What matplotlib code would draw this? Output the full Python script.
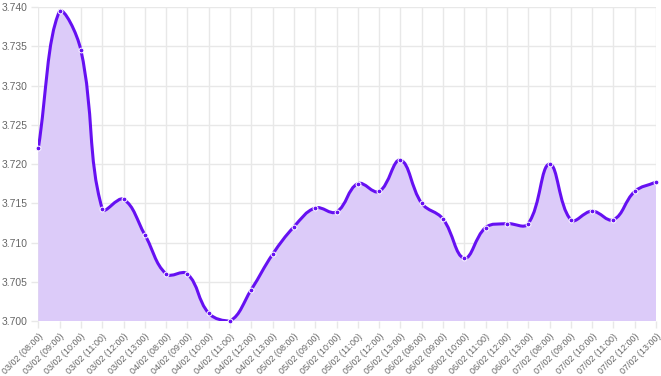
import numpy as np
import matplotlib
matplotlib.use("Agg")
import matplotlib.pyplot as plt
from matplotlib.path import Path
from matplotlib.patches import PathPatch

days = ["03/02", "04/02", "05/02", "06/02", "07/02"]
hours = ["08:00", "09:00", "10:00", "11:00", "12:00", "13:00"]
labels = [f"{d} ({h})" for d in days for h in hours]

values = [3.7220, 3.7395, 3.7345, 3.7143, 3.7155, 3.7110,
          3.7060, 3.7060, 3.7010, 3.7000, 3.7040, 3.7085,
          3.7120, 3.7144, 3.7139, 3.7175, 3.7165, 3.7205,
          3.7150, 3.7130, 3.7080, 3.7119, 3.7124, 3.7124,
          3.7200, 3.7129, 3.7140, 3.7129, 3.7165, 3.7177]

line_col = "#6610f2"
fill_col = "#dccbf9"
grid_col = "#e8e8e8"
text_col = "#666666"

W, H = 661, 376
fig = plt.figure(figsize=(W / 100, H / 100), dpi=100)
ax = fig.add_axes([38.3 / W, 1 - 321 / H, (656 - 38.3) / W, (321 - 7) / H])
ax.set_xlim(0, len(values) - 1)
ax.set_ylim(3.700, 3.740)

# chart.js style bezier (tension 0.4), computed in pixel space
x = np.arange(len(values))
pts = ax.transData.transform(np.column_stack([x, values]))
t = 0.4
n = len(pts)
cp_prev = pts.copy()
cp_next = pts.copy()
for i in range(n):
    p0 = pts[max(i - 1, 0)]
    p1 = pts[i]
    p2 = pts[min(i + 1, n - 1)]
    d01 = np.hypot(*(p1 - p0))
    d12 = np.hypot(*(p2 - p1))
    tot = d01 + d12
    s01 = d01 / tot if tot else 0
    s12 = d12 / tot if tot else 0
    cp_prev[i] = p1 - t * s01 * (p2 - p0)
    cp_next[i] = p1 + t * s12 * (p2 - p0)

# keep control points inside the chart area
bb = ax.bbox
for arr in (cp_prev, cp_next):
    arr[:, 0] = np.clip(arr[:, 0], bb.x0, bb.x1)
    arr[:, 1] = np.clip(arr[:, 1], bb.y0, bb.y1)

inv = ax.transData.inverted()
P = inv.transform(pts)
CP = inv.transform(cp_prev)
CN = inv.transform(cp_next)

verts = [P[0]]
codes = [Path.MOVETO]
for i in range(n - 1):
    verts += [CN[i], CP[i + 1], P[i + 1]]
    codes += [Path.CURVE4] * 3

fill_verts = verts + [(x[-1], 3.700), (x[0], 3.700), P[0]]
fill_codes = codes + [Path.LINETO, Path.LINETO, Path.CLOSEPOLY]
ax.add_patch(PathPatch(Path(fill_verts, fill_codes), facecolor=fill_col,
                       edgecolor="none", zorder=1))
ax.add_patch(PathPatch(Path(verts, codes), facecolor="none", edgecolor=line_col,
                       lw=2.2, zorder=3, capstyle="round", joinstyle="round"))
ax.scatter(x, values, s=12, color=line_col, edgecolor="white", linewidth=0.7,
           zorder=4, clip_on=False)

ax.set_xticks(x)
ax.set_xticklabels(labels, rotation=45, ha="right", rotation_mode="anchor",
                   fontsize=6.5, color=text_col, family="Liberation Sans")
yt = np.arange(3.700, 3.7401, 0.005)
ax.set_yticks(yt)
ax.set_yticklabels([f"{v:.3f}" for v in yt], fontsize=7.5, color=text_col,
                   family="Liberation Sans")
ax.tick_params(axis="both", length=5, color=grid_col, width=1, pad=3)
ax.grid(True, color=grid_col, lw=1, zorder=0)
ax.set_axisbelow(True)
for s in ax.spines.values():
    s.set_visible(False)

fig.savefig("out.png", dpi=100)
